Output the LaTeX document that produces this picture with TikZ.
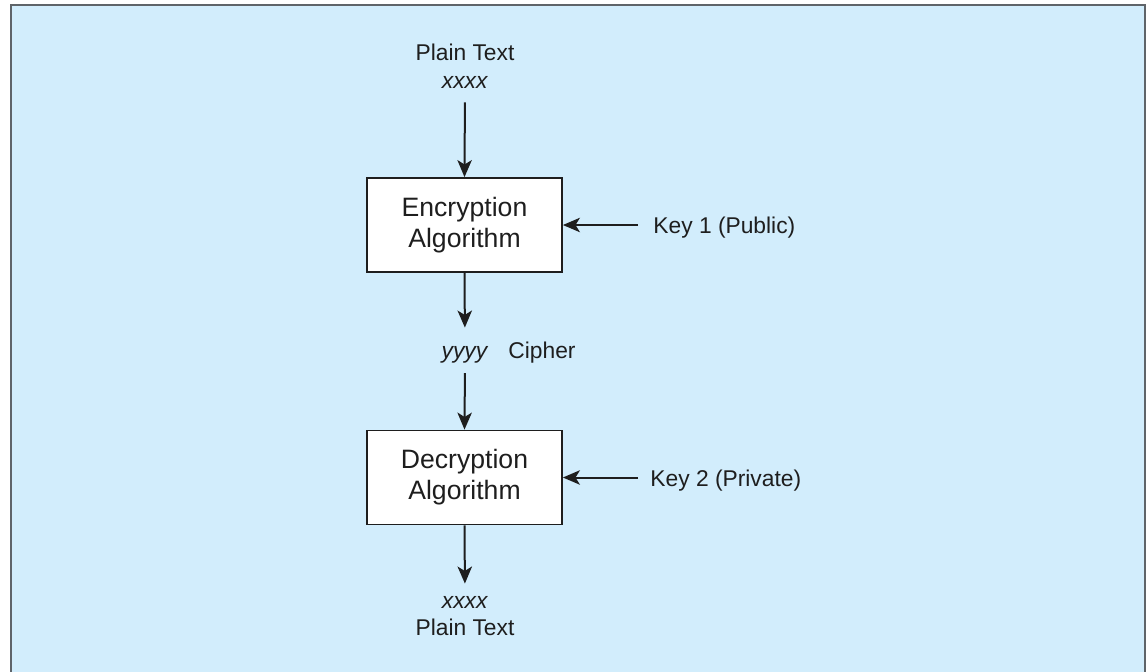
\documentclass[tikz,border=0pt]{standalone}
\usepackage{fontspec}
\setmainfont{Liberation Sans}
\usetikzlibrary{arrows.meta}

\definecolor{panelblue}{RGB}{210,237,252}
\definecolor{framegrey}{RGB}{95,100,105}
\definecolor{inkdark}{RGB}{30,30,30}

\tikzset{
  lbl/.style={inner sep=0pt, text=inkdark, font=\fontsize{11.4}{14}\selectfont},
  algbox/.style={draw=inkdark, line width=0.9pt, fill=white, text=inkdark,
    minimum width=97.5pt, minimum height=47pt, inner sep=0pt, align=center,
    font=\fontsize{13.3}{15.5}\selectfont},
  flow/.style={draw=inkdark, line width=1pt,
    -{Stealth[length=8.5pt, width=7.2pt, inset=2.2pt]}}
}

\begin{document}
\begin{tikzpicture}[x=0.5pt, y=-0.5pt]
  % canvas and panel
  \useasboundingbox (0,0) rectangle (1148,671);
  \fill[white] (0,0) rectangle (1148,671);
  \fill[panelblue] (11,5) rectangle (1145,676);
  \draw[framegrey, line width=1.3pt] (11,676) -- (11,5) -- (1145,5) -- (1145,676);

  % input text
  \node[lbl, anchor=base] (ptin) at (465,60) {Plain Text};
  \node[lbl, anchor=base] (xin)  at (465,88) {\textit{xxxx}};

  % algorithm boxes
  \node[algbox] (enc) at (464.5,225) {Encryption\\Algorithm};
  \node[algbox] (dec) at (464.5,477.5) {Decryption\\Algorithm};

  % keys
  \node[lbl, anchor=base west] (key1) at (653,233) {Key 1 (Public)};
  \node[lbl, anchor=base west] (key2) at (650,486) {Key 2 (Private)};

  % cipher text
  \node[lbl, anchor=base] (yc) at (465,358) {\textit{yyyy}};
  \node[lbl, anchor=base west] (ciph) at (508,358) {Cipher};

  % output text
  \node[lbl, anchor=base] (xout)  at (465,608) {\textit{xxxx}};
  \node[lbl, anchor=base] (ptout) at (465,635) {Plain Text};

  % data flow
  \draw[flow, shorten <=7pt] (xin.south) -- (enc.north);
  \draw[flow, shorten >=9pt] (enc.south) -- (yc.north);
  \draw[flow, shorten <=5pt] (yc.south) -- (dec.north);
  \draw[flow, shorten >=6pt] (dec.south) -- (xout.north);

  % key inputs
  \draw[flow, shorten <=7.5pt] (enc.east -| key1.west) -- (enc.east);
  \draw[flow, shorten <=6pt] (dec.east -| key2.west) -- (dec.east);
\end{tikzpicture}
\end{document}
